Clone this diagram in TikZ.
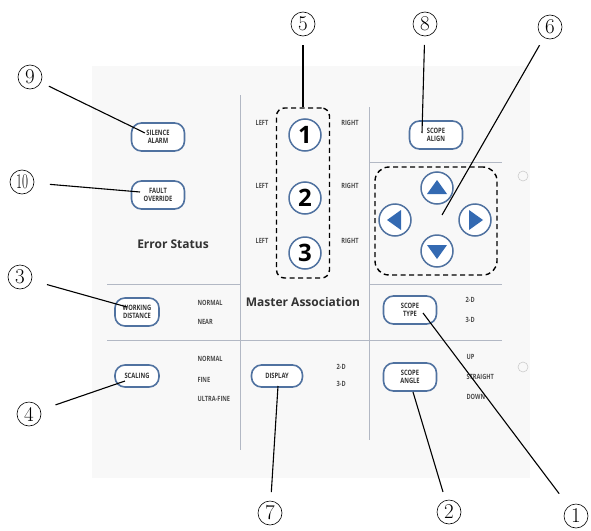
\documentclass[tikz,border=0pt]{standalone}
\usepackage{fontspec}
\setsansfont{Open Sans}
\newfontfamily\keyfont[FakeStretch=0.78]{Open Sans}

\definecolor{keyblue}{RGB}{80,114,160}
\definecolor{arrowblue}{RGB}{52,106,178}
\definecolor{rulegray}{RGB}{178,184,196}
\definecolor{panelgray}{RGB}{248,248,248}

\tikzset{
  key/.style={draw=keyblue, line width=1.6pt, fill=white, rounded corners=10pt,
    minimum width=53pt, minimum height=28pt, inner sep=1pt, align=center,
    font=\keyfont\bfseries\fontsize{7.4}{7.6}\selectfont, text=black!80},
  flatkey/.style={key, minimum height=22pt},
  roundkey/.style={circle, draw=keyblue, line width=1.5pt, fill=white,
    minimum size=32pt, inner sep=0pt, font=\sffamily\bfseries\fontsize{24}{24}\selectfont},
  tag/.style={font=\keyfont\bfseries\fontsize{7.2}{7.2}\selectfont, text=black!70},
  heading/.style={font=\sffamily\bfseries\fontsize{12}{12}\selectfont, text=black!80},
  callout/.style={circle, draw, line width=0.6pt, minimum size=24pt, inner sep=0pt,
    outer sep=9pt, font=\fontsize{21}{21}\selectfont},
  leader/.style={line width=1.1pt},
  rule/.style={draw=rulegray, line width=0.8pt},
  groupbox/.style={draw, dashed, dash pattern=on 5pt off 3.5pt, line width=1.4pt,
    rounded corners=8pt, inner sep=0pt},
}

\begin{document}
\begin{tikzpicture}[x=1pt, y=-1pt]
  \useasboundingbox (0,0) rectangle (591,530);
  % panel and its dividing rules
  \fill[panelgray] (92,66) rectangle (530,478);
  \draw[rule] (240,95) -- (240,450);
  \draw[rule] (369,107) -- (369,440);
  \draw[rule] (369,162) -- (502,162);
  \draw[rule] (107,284) -- (240,284);
  \draw[rule] (369,284) -- (502,284);
  \draw[rule] (107,340) -- (502,340);
  \draw[black!20, line width=0.6pt] (523,176) circle (5);
  \draw[black!20, line width=0.6pt] (523,367) circle (5);

  % dashed groups
  \node[groupbox, minimum width=53pt, minimum height=170pt] (numgroup) at (303,193) {};
  \node[groupbox, rounded corners=14pt, minimum width=122pt, minimum height=108pt] (padgroup) at (436,221) {};

  % keys
  \node[key] (silence) at (158,137) {SILENCE\\ALARM};
  \node[key] (fault) at (158,195) {FAULT\\OVERRIDE};
  \node[key, minimum width=44pt] (workdist) at (137,312) {WORKING\\DISTANCE};
  \node[flatkey, minimum width=44pt] (scaling) at (137,376) {SCALING};
  \node[flatkey, minimum width=51pt] (display) at (277,376) {DISPLAY};
  \node[key] (align) at (436,135) {SCOPE\\ALIGN};
  \node[key] (stype) at (410,310) {SCOPE\\TYPE};
  \node[key] (sangle) at (410,377) {SCOPE\\ANGLE};

  % numbered keys
  \foreach \i/\y in {1/135, 2/198, 3/253} {
    \node[roundkey] (num\i) at (305,\y) {\i};
    \node[tag] (left\i) at (262,\y-12) {LEFT};
    \node[tag] (right\i) at (350,\y-12) {RIGHT};
  }

  % arrow pad
  \foreach \n/\x/\y/\a in {up/437/188/90, lt/395/220/180, rt/475/220/0, dn/437/251/270} {
    \node[roundkey] (\n) at (\x,\y) {};
    \fill[arrowblue, shift={(\n.center)}, rotate=\a] (8,0) -- (-6,10) -- (-6,-10) -- cycle;
  }

  % headings and settings
  \node[heading] (errstat) at (173,244) {Error Status};
  \node[heading] (master) at (303,302) {Master Association};
  \node[tag, anchor=west] (wdnormal) at (194,303) {NORMAL};
  \node[tag, anchor=west] (wdnear) at (194,322) {NEAR};
  \node[tag, anchor=west] (scnormal) at (194,359) {NORMAL};
  \node[tag, anchor=west] (scfine) at (194,380) {FINE};
  \node[tag, anchor=west] (scultra) at (194,399) {ULTRA-FINE};
  \node[tag, anchor=west] (disptwo) at (333,367) {2-D};
  \node[tag, anchor=west] (dispthree) at (333,384) {3-D};
  \node[tag, anchor=west] (typetwo) at (462,300) {2-D};
  \node[tag, anchor=west] (typethree) at (462,320) {3-D};
  \node[tag, anchor=west] (angup) at (463,357) {UP};
  \node[tag, anchor=west] (angstraight) at (463,377) {STRAIGHT};
  \node[tag, anchor=west] (angdown) at (463,397) {DOWN};

  % callouts
  \node[callout] (c1) at (576,516) {1};
  \node[callout] (c2) at (449,512) {2};
  \node[callout] (c3) at (20,277) {3};
  \node[callout] (c4) at (29,414) {4};
  \node[callout] (c5) at (303,24) {5};
  \node[callout] (c6) at (550,27) {6};
  \node[callout] (c7) at (270,513) {7};
  \node[callout] (c8) at (425,24) {8};
  \node[callout] (c9) at (30,77) {9};
  \node[callout] (c10) at (22,182) {\scalebox{0.62}[1]{10}};

  \coordinate (p1) at (423,313);
  \coordinate (p2) at (413,392);
  \coordinate (p3) at (127,307);
  \coordinate (p4) at (125,381);
  \coordinate (p6) at (442,215);
  \coordinate (p7) at (278,386);
  \coordinate (p8) at (422,133);
  \coordinate (p9) at (145,133);
  \coordinate (p10) at (140,192);

  \draw[leader, shorten <=7pt] (c1) -- (p1);
  \draw[leader] (c2) -- (p2);
  \draw[leader, shorten <=7pt] (c3) -- (p3);
  \draw[leader, shorten <=7pt] (c4) -- (p4);
  \draw[leader] (c5) -- (numgroup.north);
  \draw[leader] (c6) -- (p6);
  \draw[leader] (c7) -- (p7);
  \draw[leader] (c8) -- (p8);
  \draw[leader] (c9) -- (p9);
  \draw[leader, shorten <=7pt] (c10) -- (p10);
\end{tikzpicture}
\end{document}
